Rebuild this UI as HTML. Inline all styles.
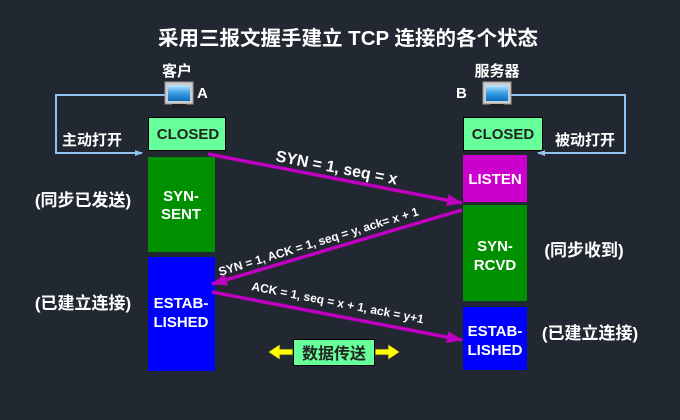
<!DOCTYPE html>
<html><head><meta charset="utf-8"><style>
html,body{margin:0;padding:0;background:#222831;}
svg{display:block}
text{font-family:"Liberation Sans","Noto Sans CJK SC",sans-serif;font-weight:bold;}
</style></head><body>
<svg width="680" height="420" viewBox="0 0 680 420" xmlns="http://www.w3.org/2000/svg">
<defs>
<marker id="m" markerWidth="16" markerHeight="12" refX="15" refY="6" orient="auto" markerUnits="userSpaceOnUse"><path d="M0,0 L16,6 L0,12 z" fill="#c000c0"/></marker>
<marker id="b" markerWidth="8" markerHeight="8" refX="7" refY="4" orient="auto" markerUnits="userSpaceOnUse"><path d="M0,1 L8,4 L0,7 z" fill="#8cc4ee"/></marker>
<linearGradient id="scr" x1="0" y1="0" x2="0" y2="1"><stop offset="0" stop-color="#bfe6ff"/><stop offset="0.5" stop-color="#3aa0e6"/><stop offset="1" stop-color="#0a6cc0"/></linearGradient>
</defs>
<rect width="680" height="420" fill="#222831"/>
<text x="348" y="45" fill="#fff" font-size="20" text-anchor="middle" textLength="380" lengthAdjust="spacingAndGlyphs">采用三报文握手建立 TCP 连接的各个状态</text>

<text x="177" y="76" fill="#fff" font-size="15" text-anchor="middle">客户</text>
<text x="497" y="76" fill="#fff" font-size="15" text-anchor="middle">服务器</text>
<text x="197" y="98" fill="#fff" font-size="15">A</text>
<text x="456" y="98" fill="#fff" font-size="15">B</text>

<g>
<rect x="165" y="82" width="28" height="22" fill="#ccc" stroke="#999"/><rect x="168" y="85" width="22" height="16" fill="url(#scr)"/><rect x="172" y="104" width="14" height="4" fill="#222"/>
<rect x="483" y="82" width="28" height="22" fill="#ccc" stroke="#999"/><rect x="486" y="85" width="22" height="16" fill="url(#scr)"/><rect x="490" y="104" width="14" height="4" fill="#222"/>
</g>

<polyline points="165,95 56,95 56,153 142,153" fill="none" stroke="#8cc4ee" stroke-width="2" marker-end="url(#b)"/>
<polyline points="511,95 625,95 625,153 538,153" fill="none" stroke="#8cc4ee" stroke-width="2" marker-end="url(#b)"/>
<text x="62" y="145" fill="#fff" font-size="15">主动打开</text>
<text x="555" y="145" fill="#fff" font-size="15">被动打开</text>

<rect x="148.5" y="117.5" width="77" height="33" fill="#66ff99" stroke="#000"/>
<text x="188" y="139" fill="#222" font-size="15" text-anchor="middle">CLOSED</text>
<rect x="148" y="157" width="67" height="95" fill="#009000"/>
<text x="181" y="201" fill="#fff" font-size="15" text-anchor="middle">SYN-</text>
<text x="181" y="219" fill="#fff" font-size="15" text-anchor="middle">SENT</text>
<rect x="148" y="257" width="67" height="114" fill="#0000ff"/>
<text x="181" y="308" fill="#fff" font-size="15" text-anchor="middle">ESTAB-</text>
<text x="181" y="327" fill="#fff" font-size="15" text-anchor="middle">LISHED</text>

<rect x="463.5" y="117.5" width="79" height="33" fill="#66ff99" stroke="#000"/>
<text x="503" y="139" fill="#222" font-size="15" text-anchor="middle">CLOSED</text>
<rect x="463" y="155" width="64" height="47" fill="#cc00cc"/>
<text x="495" y="184" fill="#fff" font-size="15" text-anchor="middle">LISTEN</text>
<rect x="463" y="205" width="64" height="96" fill="#009000"/>
<text x="495" y="251" fill="#fff" font-size="15" text-anchor="middle">SYN-</text>
<text x="495" y="270" fill="#fff" font-size="15" text-anchor="middle">RCVD</text>
<rect x="463" y="307" width="64" height="63" fill="#0000ff"/>
<text x="495" y="336" fill="#fff" font-size="15" text-anchor="middle">ESTAB-</text>
<text x="495" y="355" fill="#fff" font-size="15" text-anchor="middle">LISHED</text>

<text x="83" y="206" fill="#fff" font-size="17" text-anchor="middle">(同步已发送)</text>
<text x="83" y="309" fill="#fff" font-size="17" text-anchor="middle">(已建立连接)</text>
<text x="584" y="256" fill="#fff" font-size="17" text-anchor="middle">(同步收到)</text>
<text x="590" y="339" fill="#fff" font-size="17" text-anchor="middle">(已建立连接)</text>

<line x1="208" y1="154" x2="462" y2="203" stroke="#c000c0" stroke-width="3.5" marker-end="url(#m)"/>
<line x1="462" y1="210" x2="212" y2="284" stroke="#c000c0" stroke-width="3.5" marker-end="url(#m)"/>
<line x1="212" y1="292" x2="462" y2="340" stroke="#c000c0" stroke-width="3.5" marker-end="url(#m)"/>

<text transform="translate(275,161) rotate(11)" fill="#fff" font-size="16">SYN = 1, seq = x</text>
<text transform="translate(220,276) rotate(-17)" fill="#fff" font-size="12">SYN = 1, ACK = 1, seq = y, ack= x + 1</text>
<text transform="translate(251,290) rotate(11)" fill="#fff" font-size="12">ACK = 1, seq = x + 1, ack = y+1</text>

<path d="M268,352 L280,344 L280,349 L293,349 L293,355 L280,355 L280,360 z" fill="#ffff00" stroke="#333" stroke-width="0.8"/>
<path d="M400,352 L388,344 L388,349 L375,349 L375,355 L388,355 L388,360 z" fill="#ffff00" stroke="#333" stroke-width="0.8"/>
<rect x="293.5" y="339.5" width="81" height="26" fill="#66ff99" stroke="#000"/>
<text x="334" y="359" fill="#222" font-size="16" text-anchor="middle">数据传送</text>
</svg>
</body></html>
